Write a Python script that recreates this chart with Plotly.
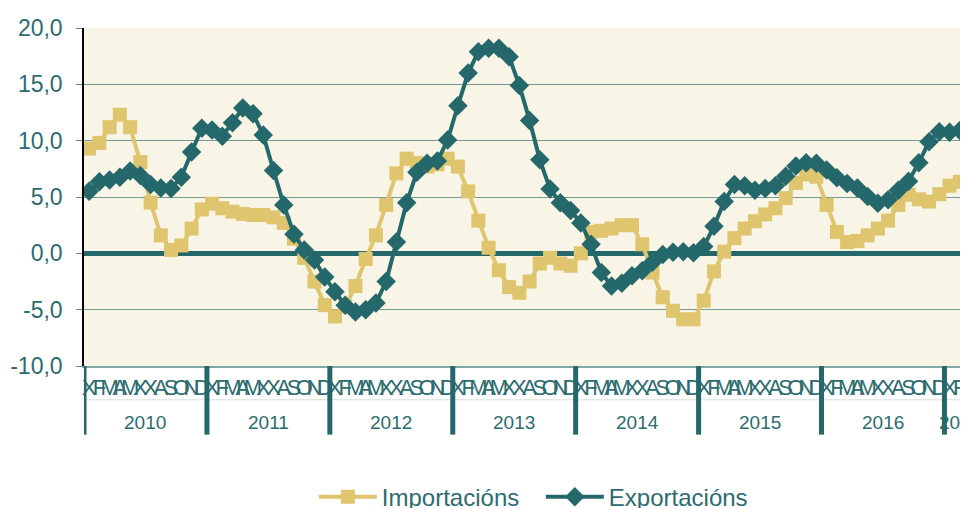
import plotly.graph_objects as go

MONTHS = ["X", "F", "M", "A", "M", "X", "X", "A", "S", "O", "N", "D"]
YEARS = ["2010", "2011", "2012", "2013", "2014", "2015", "2016", "2017"]
Y_TICKS = [-10, -5, 0, 5, 10, 15, 20]
Y_TICK_TEXT = ["-10,0", "-5,0", "0,0", "5,0", "10,0", "15,0", "20,0"]

importacions = [
    9.3, 9.8, 11.2, 12.3, 11.2, 8.1, 4.5, 1.6, 0.3, 0.7, 2.2, 3.9,
    4.4, 4.0, 3.7, 3.5, 3.4, 3.4, 3.2, 2.7, 1.3, -0.4, -2.5, -4.6,
    -5.6, -4.7, -2.9, -0.5, 1.6, 4.3, 7.1, 8.4, 8.0, 7.7, 7.9, 8.4,
    7.7, 5.5, 2.9, 0.5, -1.5, -3.0, -3.5, -2.5, -0.9, -0.4, -0.9, -1.1,
    0.0, 1.9, 2.0, 2.2, 2.5, 2.5, 0.8, -1.7, -3.9, -5.1, -5.85, -5.85,
    -4.2, -1.6, 0.15, 1.35, 2.2, 2.85, 3.45, 4.0, 4.9, 6.25, 7.0, 6.8,
    4.3, 1.9, 1.0, 1.1, 1.6, 2.2, 2.9, 4.3, 5.2, 4.8, 4.6, 5.25,
    6.0, 6.35, 6.4,
]
exportacions = [
    5.5, 6.35, 6.5, 6.75, 7.3, 6.9, 6.1, 5.8, 5.75, 6.75, 9.0, 11.1,
    10.95, 10.4, 11.6, 12.9, 12.4, 10.5, 7.35, 4.3, 1.7, 0.3, -0.6, -2.1,
    -3.4, -4.6, -5.2, -5.0, -4.4, -2.5, 1.0, 4.5, 7.2, 8.0, 8.2, 10.05,
    13.1, 16.0, 17.9, 18.2, 18.2, 17.45, 14.9, 11.8, 8.3, 5.7, 4.5, 3.8,
    2.7, 0.8, -1.7, -2.9, -2.65, -2.0, -1.55, -0.8, -0.1, 0.1, 0.15, 0.05,
    0.6, 2.4, 4.6, 6.1, 6.0, 5.6, 5.75, 6.0, 6.85, 7.75, 8.05, 8.0,
    7.4, 6.7, 6.2, 5.8, 5.05, 4.45, 4.75, 5.6, 6.4, 8.05, 9.9, 10.8,
    10.75, 10.9, 11.1,
]

GOLD = "#DFC56E"
TEAL = "#25686B"
TXT = "#2C6C6E"

n = len(importacions)
xs = list(range(n))
ticktext = [MONTHS[i % 12] for i in xs]

fig = go.Figure()
fig.add_trace(go.Scatter(
    x=xs, y=importacions, name="Importacións", mode="lines+markers",
    line=dict(color=GOLD, width=4),
    marker=dict(symbol="square", size=14, color=GOLD),
))
fig.add_trace(go.Scatter(
    x=xs, y=exportacions, name="Exportacións", mode="lines+markers",
    line=dict(color=TEAL, width=4),
    marker=dict(symbol="diamond", size=15, color=TEAL),
))

FONT = "Liberation Sans, Arial, sans-serif"

# plot area: 338 px tall
shapes = []
annotations = []
for k, yr in enumerate(YEARS):
    start = 12 * k
    end = min(12 * k + 11, n - 1)
    shapes.append(dict(type="line", xref="x", yref="paper",
                       x0=start - 0.5, x1=start - 0.5, y0=0, y1=-0.203,
                       line=dict(color=TEAL, width=5), layer="above"))
    annotations.append(dict(xref="x", yref="paper", x=(start + end) / 2, y=-0.166,
                            text=yr, showarrow=False, yanchor="middle",
                            font=dict(family=FONT, size=19, color=TXT)))
shapes.insert(0, dict(type="line", xref="paper", yref="paper", x0=0, x1=1.1,
                      y0=-0.1, y1=-0.1, line=dict(color="#D3E0DF", width=1)))

fig.update_layout(
    width=960, height=500,
    margin=dict(l=76, r=0, t=20, b=142, autoexpand=False),
    paper_bgcolor="white",
    plot_bgcolor="#F8F4E6",
    font=dict(family=FONT, color=TXT),
    showlegend=True,
    legend=dict(orientation="h", x=0.260, xanchor="left", y=-0.388, yanchor="middle",
                font=dict(family=FONT, size=24, color=TXT), itemwidth=58,
                entrywidth=154, bgcolor="rgba(0,0,0,0)"),
    shapes=shapes,
    annotations=annotations,
)
fig.update_xaxes(
    range=[-0.5, 85.8], tickmode="array", tickvals=xs, ticktext=ticktext,
    tickangle=0, showgrid=False, zeroline=False,
    showline=True, linecolor="#7FA8A6", linewidth=2,
    ticks="", ticklabelstandoff=1,
    tickfont=dict(family="Liberation Sans Narrow, Liberation Sans, Arial", size=22, color=TXT),
)
fig.update_yaxes(
    range=[-10, 20], tickmode="array", tickvals=Y_TICKS, ticktext=Y_TICK_TEXT,
    showgrid=True, gridcolor="#739A94", gridwidth=1,
    zeroline=True, zerolinecolor=TEAL, zerolinewidth=5,
    showline=True, linecolor="black", linewidth=1.5,
    ticks="outside", ticklen=6, tickcolor="#808080", ticklabelstandoff=9,
    tickfont=dict(family=FONT, size=23, color=TXT),
)

fig.write_html("out.html")
